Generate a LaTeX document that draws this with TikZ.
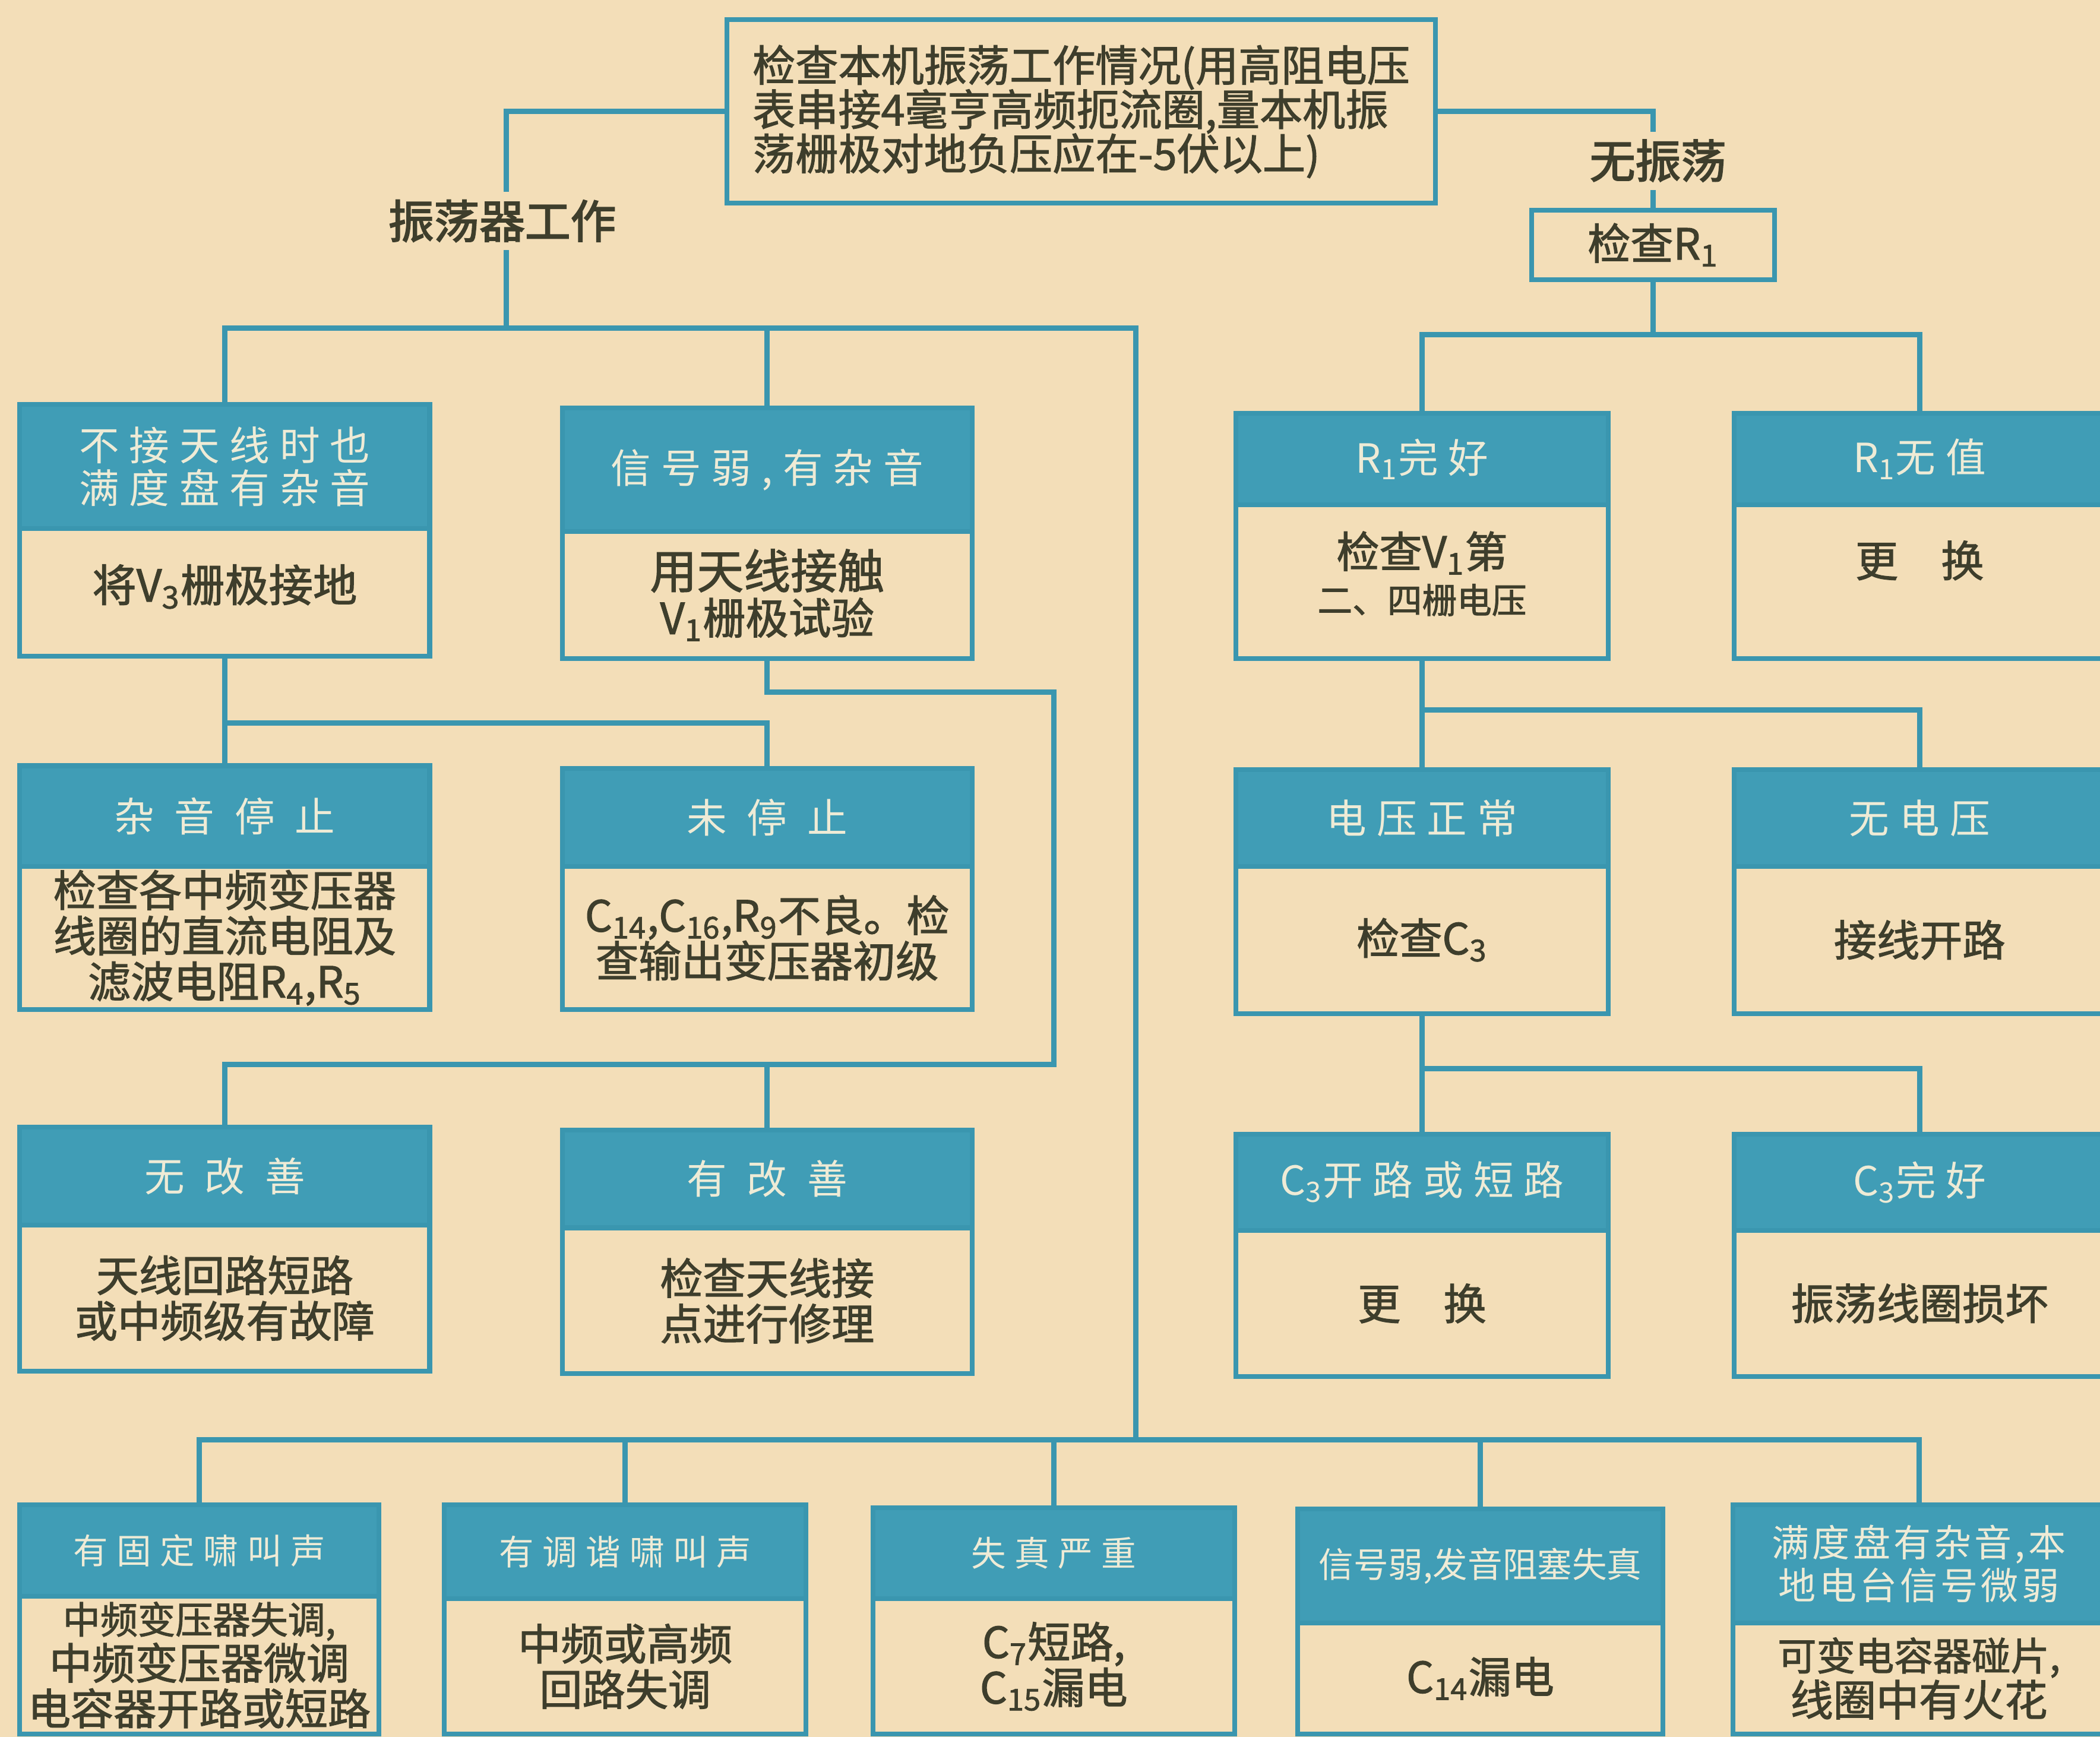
\documentclass[tikz,border=0pt]{standalone}
\usepackage{fontspec}
\setmainfont{Noto Sans CJK SC}
\newfontfamily\cjk{Noto Sans CJK SC}
\newfontfamily\cjkh[LetterSpace=25]{Noto Sans CJK SC}
\newfontfamily\cjkm[LetterSpace=8]{Noto Sans CJK SC}
\newfontfamily\cjkb[FakeBold=1.6]{Noto Sans CJK SC}
\newfontfamily\cjkbb[FakeBold=2.6]{Noto Sans CJK SC}
\definecolor{paper}{HTML}{F3DEB8}
\definecolor{tealf}{HTML}{409DB6}
\definecolor{lin}{HTML}{3A96AF}
\definecolor{htxt}{HTML}{EEEBD6}
\definecolor{btxt}{HTML}{3E3E2C}
\tikzset{
 hdr/.style={draw=lin, fill=tealf, line width=1.8pt, text=htxt, align=center, inner sep=1pt, font=\cjkh\fontsize{15}{16}\selectfont},
 bdy/.style={draw=lin, line width=1.8pt, text=btxt, align=center, inner sep=1pt, font=\cjkb\fontsize{16}{17}\selectfont},
 plainbox/.style={draw=lin, line width=1.8pt, text=btxt, inner sep=2pt, font=\cjkb\fontsize{16}{16.5}\selectfont},
 conn/.style={draw=lin, line width=2pt},
 lbl/.style={fill=paper, text=btxt, inner sep=3pt, font=\cjkbb\fontsize{17}{18}\selectfont},
}
\newcommand\fcbox[8]{%
 \node[hdr, anchor=north west, minimum width={(#4-#2)*0.5pt}, minimum height={(#5-#3)*0.5pt}] (#1h) at (#2,#3) {#7};
 \node[bdy, anchor=north west, minimum width={(#4-#2)*0.5pt}, minimum height={(#6-#5)*0.5pt}] (#1b) at (#2,#5) {#8};}
\newcommand\sub[1]{\textsubscript{#1}}
\newcommand\gp{\hspace{0.5em}}
\begin{document}
\setlength{\lineskiplimit}{-20pt}
\begin{tikzpicture}[x=0.5pt,y=-0.5pt]
\fill[paper] (0,0) rectangle (1568,1297);
\useasboundingbox (0,0) rectangle (1568,1297);

% top box
\node[plainbox, anchor=north west, align=left, minimum width={529*0.5pt}, minimum height={137*0.5pt}] (top) at (541,13)
 {检查本机振荡工作情况(用高阻电压\\表串接4毫亨高频扼流圈,量本机振\\荡栅极对地负压应在-5伏以上)};
\node[plainbox, anchor=north west, minimum width={181*0.5pt}, minimum height={52*0.5pt}] (r1) at (1142,155) {检查R\sub{1}};

% left column
\fcbox{b1}{13}{300}{319}{393}{488}{不接天线时也\\满度盘有杂音}{\fontsize{16.5}{17}\selectfont 将V\sub{3}栅极接地\\[-10pt]}
\fcbox{b2}{418}{303}{724}{395}{490}{信号弱,有杂音}{\fontsize{17.5}{19}\selectfont 用天线接触\\V\sub{1}栅极试验}
\fcbox{b3}{13}{570}{319}{645}{752}{杂\gp 音\gp 停\gp 止}{\fontsize{16}{15.5}\selectfont 检查各中频变压器\\线圈的直流电阻及\\滤波电阻R\sub{4},R\sub{5}}
\fcbox{b4}{418}{572}{724}{645}{752}{未\gp 停\gp 止}{C\sub{14},C\sub{16},R\sub{9}不良。检\\查输出变压器初级}
\fcbox{b5}{13}{840}{319}{913}{1022}{无\gp 改\gp 善}{天线回路短路\\或中频级有故障}
\fcbox{b6}{418}{842}{724}{915}{1024}{有\gp 改\gp 善}{检查天线接\\点进行修理}

% right column
\fcbox{c1}{921}{307}{1199}{375}{490}{R\sub{1}完好}{检查V\sub{1}第\\{\fontsize{13}{15}\selectfont 二、四栅电压}\\[-10pt]}
\fcbox{c2}{1293}{307}{1570}{375}{490}{R\sub{1}无值}{更\hspace{1em}换\\[0.1pt]}
\fcbox{c3}{921}{573}{1199}{645}{755}{电压正常}{检查C\sub{3}}
\fcbox{c4}{1293}{573}{1570}{645}{755}{无电压}{接线开路}
\fcbox{c5}{921}{845}{1199}{917}{1026}{C\sub{3}开路或短路}{更\hspace{1em}换}
\fcbox{c6}{1293}{845}{1570}{917}{1026}{C\sub{3}完好}{振荡线圈损坏}

% bottom row
\fcbox{B1}{13}{1122}{281}{1190}{1293}{\fontsize{13}{14}\selectfont 有固定啸叫声}{\fontsize{14}{16}\selectfont 中频变压器失调,\\中频变压器微调\\电容器开路或短路}
\fcbox{B2}{330}{1122}{600}{1192}{1293}{\fontsize{13}{14}\selectfont 有调谐啸叫声}{中频或高频\\回路失调}
\fcbox{B3}{650}{1124}{920}{1192}{1293}{\fontsize{13}{14}\selectfont 失真严重}{C\sub{7}短路,\\C\sub{15}漏电}
\fcbox{B4}{967}{1125}{1240}{1210}{1293}{\cjk\fontsize{13}{14}\selectfont 信号弱,发音阻塞失真}{C\sub{14}漏电}
\fcbox{B5}{1292}{1122}{1570}{1210}{1293}{\cjkm\fontsize{14}{16}\selectfont 满度盘有杂音,本\\\cjkm\fontsize{14}{16}\selectfont 地电台信号微弱}{\fontsize{14.5}{16.5}\selectfont 可变电容器碰片,\\线圈中有火花}

% connectors
\coordinate (oscL) at (378,245);
\coordinate (busA) at (848,245);
\coordinate (busB) at (848,1075);
\draw[conn] (top.west) -| (oscL);
\draw[conn] (b1h.north) |- (busA) -- (busB);
\draw[conn] (b2h.north) -- (b2h.north |- busA);
\draw[conn] (B1h.north) |- (B5h.north |- busB) -- (B5h.north);
\draw[conn] (B2h.north) -- (B2h.north |- busB);
\draw[conn] (B3h.north) -- (B3h.north |- busB);
\draw[conn] (B4h.north) -- (B4h.north |- busB);

\coordinate (j1) at (165,540);
\draw[conn] (b1b.south) -- (b3h.north);
\draw[conn] (b1b.south |- j1) -| (b4h.north);
\coordinate (j2) at (787,517);
\coordinate (j3) at (787,795);
\draw[conn] (b2b.south) |- (j2) -- (j3) -| (b5h.north);
\draw[conn] (b6h.north) -- (b6h.north |- j3);

\draw[conn] (top.east) -| (r1.north);
\coordinate (j4) at (1232,250);
\draw[conn] (r1.south) -- (r1.south |- j4);
\draw[conn] (c1h.north) |- (c2h.north |- j4) -- (c2h.north);
\coordinate (j5) at (1058,530);
\draw[conn] (c1b.south) -- (c3h.north);
\draw[conn] (c1b.south |- j5) -| (c4h.north);
\coordinate (j6) at (1058,798);
\draw[conn] (c3b.south) -- (c5h.north);
\draw[conn] (c3b.south |- j6) -| (c6h.north);

% labels on lines
\node[lbl] (lw) at (375,165) {振荡器工作};
\node[lbl] (ln) at (1238,120) {无振荡};
\end{tikzpicture}
\end{document}
